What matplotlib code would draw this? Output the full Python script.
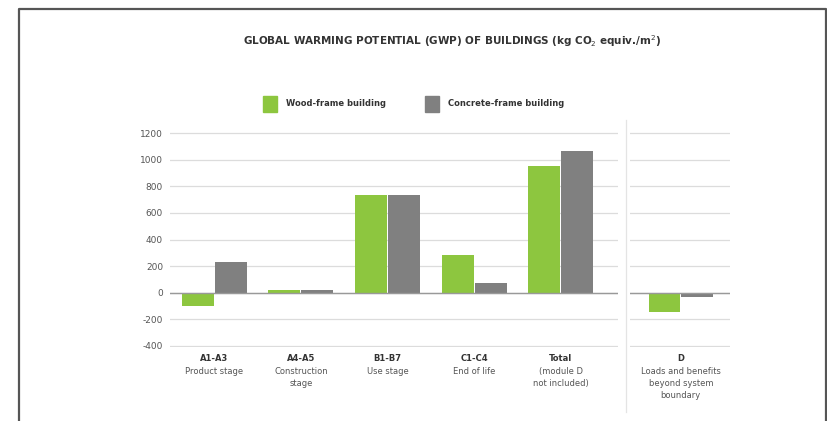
import matplotlib.pyplot as plt
import numpy as np

stages = ["A1-A3", "A4-A5", "B1-B7", "C1-C4", "Total"]
stageNotes = ["Product stage", "Construction\nstage", "Use stage", "End of life", "(module D\nnot included)"]
wood = [-100, 20, 735, 285, 950]
concrete = [230, 20, 735, 75, 1065]

dStage = "D"
dNote = "Loads and benefits\nbeyond system\nboundary"
dWood = -145
dConcrete = -30

yTicks = [-400, -200, 0, 200, 400, 600, 800, 1000, 1200]

green = "#8dc63f"
grey = "#808080"
gridColor = "#dcdcdc"
textColor = "#333333"

plt.rcParams["axes.unicode_minus"] = False

W, H = 827, 421
fig = plt.figure(figsize=(W / 100, H / 100), dpi=100)

def px(x0, y0, x1, y1):
    return [x0 / W, 1 - y1 / H, (x1 - x0) / W, (y1 - y0) / H]

# y range padded a little so the outer gridlines are not clipped
ax1 = fig.add_axes(px(170, 131.7, 618, 347.3))
ax2 = fig.add_axes(px(630, 131.7, 730, 347.3))

bw = 0.37
x = np.arange(len(stages))
ax1.bar(x - 0.19, wood, bw, color=green, zorder=3)
ax1.bar(x + 0.19, concrete, bw, color=grey, zorder=3)
ax1.set_xlim(-0.51, 4.66)

ax2.bar([-0.19], [dWood], bw, color=green, zorder=3)
ax2.bar([0.19], [dConcrete], bw, color=grey, zorder=3)
ax2.set_xlim(-0.59, 0.57)

for ax in (ax1, ax2):
    ax.set_ylim(-410, 1210)
    ax.set_yticks(yTicks)
    ax.grid(axis="y", color=gridColor, linewidth=0.9, zorder=0)
    ax.axhline(0, color="#999999", linewidth=1.0, zorder=4)
    for s in ax.spines.values():
        s.set_visible(False)
    ax.tick_params(length=0)
    ax.set_xticks([])

ax1.set_yticklabels([str(t) for t in yTicks], fontsize=6.5, color="#555555")
ax1.tick_params(axis="y", pad=5)
ax2.set_yticklabels([])

# category labels under the bars
for i in range(len(stages)):
    ax1.text(i, -460, stages[i], ha="center", va="top", fontsize=6, fontweight="bold", color=textColor)
    ax1.text(i, -555, stageNotes[i], ha="center", va="top", fontsize=6, color="#555555", linespacing=1.45)
ax2.text(0, -460, dStage, ha="center", va="top", fontsize=6, fontweight="bold", color=textColor)
ax2.text(0, -555, dNote, ha="center", va="top", fontsize=6, color="#555555", linespacing=1.45)

# divider between the panels
fig.add_artist(plt.Line2D([626 / W, 626 / W], [1 - 120 / H, 1 - 412 / H], color="#e4e4e4", linewidth=0.9))

# outer frame
fig.add_artist(plt.Line2D([19 / W, 19 / W, 825.5 / W, 825.5 / W], [0, 1 - 9 / H, 1 - 9 / H, 0],
                          color="#555555", linewidth=1.6))

fig.text(452 / W, 1 - 41 / H, "GLOBAL WARMING POTENTIAL (GWP) OF BUILDINGS (kg CO$_2$ equiv./m$^2$)",
         ha="center", va="center", fontsize=7.5, fontweight="bold", color=textColor)

# legend
fig.patches.append(plt.Rectangle((263 / W, 1 - 112 / H), 14 / W, 16 / H, color=green, transform=fig.transFigure))
fig.text(286 / W, 1 - 104 / H, "Wood-frame building", ha="left", va="center", fontsize=6, fontweight="bold", color=textColor)
fig.patches.append(plt.Rectangle((425 / W, 1 - 112 / H), 14 / W, 16 / H, color=grey, transform=fig.transFigure))
fig.text(448 / W, 1 - 104 / H, "Concrete-frame building", ha="left", va="center", fontsize=6, fontweight="bold", color=textColor)

fig.savefig("out.png", dpi=100)
